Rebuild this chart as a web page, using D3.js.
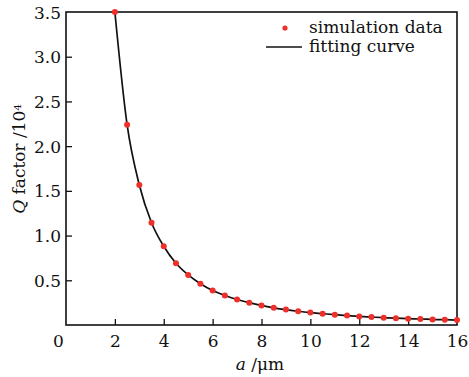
<!DOCTYPE html>
<html><head><meta charset="utf-8">
<script src="https://cdn.jsdelivr.net/npm/d3@7"></script>
<style>body{margin:0;background:#fff}svg text{font-family:"DejaVu Serif",serif;fill:#111}</style>
</head><body><svg id="c" width="469" height="377"></svg>
<script>
const aValues = [2,2.5,3,3.5,4,4.5,5,5.5,6,6.5,7,7.5,8,8.5,9,9.5,10,10.5,11,11.5,12,12.5,13,13.5,14,14.5,15,15.5,16];
const qValues = [3.5,2.24,1.566,1.144,0.88,0.69,0.56,0.462,0.386,0.33,0.285,0.25,0.219,0.192,0.172,0.154,0.139,0.127,0.115,0.105,0.096,0.089,0.082,0.076,0.071,0.067,0.062,0.059,0.055];
const xTicks = [0,2,4,6,8,10,12,14,16];
const yTicks = [0.5,1.0,1.5,2.0,2.5,3.0,3.5];
const legendLabels = ["simulation data","fitting curve"];

const svg = d3.select("#c");
const L=66,R=457,T=12,B=325;
const x = d3.scaleLinear().domain([0,16]).range([L,R]);
const y = d3.scaleLinear().domain([0,3.5]).range([B,T]);
const fs = 17;

// axes
const xa = svg.append("g").attr("transform",`translate(0,${B})`)
  .call(d3.axisBottom(x).tickValues(xTicks).tickSizeInner(-6).tickSizeOuter(0).tickPadding(10).tickFormat(d3.format("d")));
const ya = svg.append("g").attr("transform",`translate(${L},0)`)
  .call(d3.axisLeft(y).tickValues(yTicks).tickSizeInner(-6).tickSizeOuter(0).tickPadding(5).tickFormat(d3.format(".1f")));
[xa,ya].forEach(g=>{
  g.select(".domain").remove();
  g.selectAll("line").attr("stroke","#111").attr("stroke-width",1.3);
  g.selectAll("text").style("font-family","DejaVu Serif").style("font-size",fs+"px").attr("fill","#111");
});
xa.selectAll(".tick").filter(d=>d===0||d===16).select("line").remove();
xa.selectAll(".tick").filter(d=>d===0).select("text").attr("dx",-8);
ya.selectAll(".tick").filter(d=>d===3.5).select("line").remove();
ya.selectAll(".tick text").attr("dy","0.36em");

svg.append("rect").attr("x",L).attr("y",T).attr("width",R-L).attr("height",B-T)
  .attr("fill","none").attr("stroke","#111").attr("stroke-width",1.6);

// curve
const line = d3.line().x((d,i)=>x(aValues[i])).y(d=>y(d)).curve(d3.curveMonotoneX);
svg.append("path").datum(qValues).attr("d",line).attr("fill","none").attr("stroke","#111").attr("stroke-width",1.7);

svg.append("g").selectAll("circle").data(qValues).join("circle")
  .attr("cx",(d,i)=>x(aValues[i])).attr("cy",d=>y(d)).attr("r",3).attr("fill","#ee2f2a");

// legend
svg.append("circle").attr("cx",285).attr("cy",28).attr("r",2.6).attr("fill","#ee2f2a");
svg.append("line").attr("x1",266).attr("x2",302).attr("y1",47).attr("y2",47).attr("stroke","#111").attr("stroke-width",1.6);
svg.append("text").attr("x",309).attr("y",33).style("font-size",fs+"px").text(legendLabels[0]);
svg.append("text").attr("x",309).attr("y",52).style("font-size",fs+"px").text(legendLabels[1]);

// axis titles
const yt = svg.append("text").attr("transform","translate(25,159) rotate(-90)").attr("text-anchor","middle").style("font-size",fs+"px");
yt.append("tspan").style("font-style","italic").text("Q");
yt.append("tspan").text(" factor /10");
yt.append("tspan").attr("dy","-0.45em").style("font-size","10px").text("4");
const xt = svg.append("text").attr("x",260).attr("y",370).attr("text-anchor","middle").style("font-size",fs+"px");
xt.append("tspan").style("font-style","italic").text("a");
xt.append("tspan").text(" /μm");
</script></body></html>
